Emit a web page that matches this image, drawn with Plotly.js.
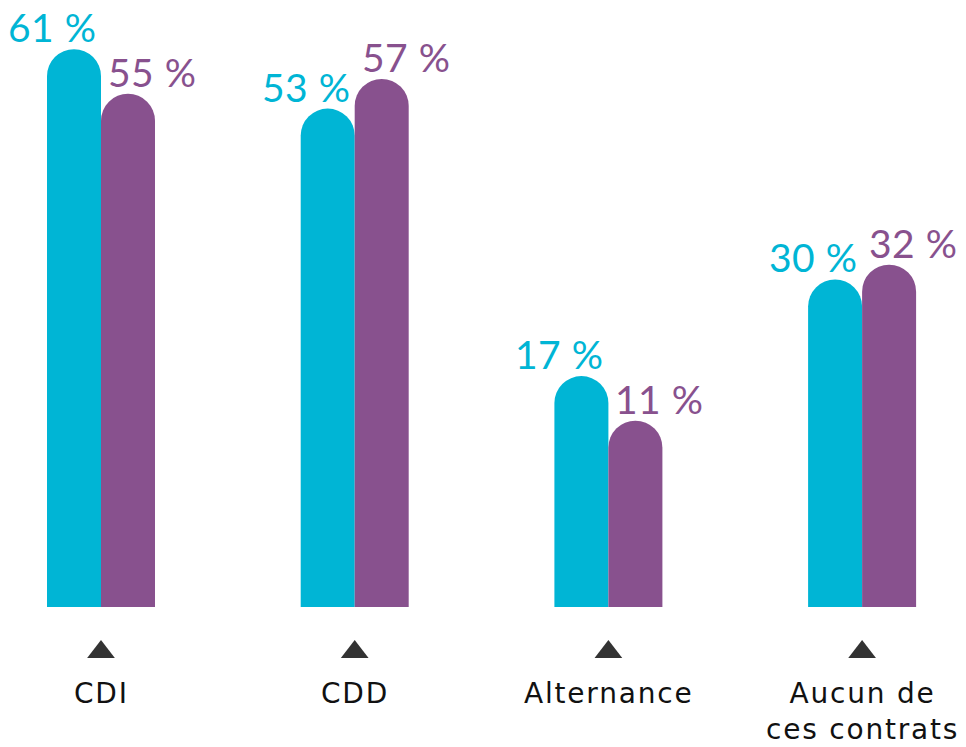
<!DOCTYPE html>
<html>
<head>
<meta charset="utf-8">
<script src="https://cdn.plot.ly/plotly-3.0.1.min.js"></script>
<style>
html,body{margin:0;padding:0;background:#fff;}
#chart{width:966px;height:747px;}
.annotation-text[style*="DejaVu"]{letter-spacing:1.8px;}
.annotation-text[style*="Lato"]{letter-spacing:0.5px;}
</style>
</head>
<body>
<div id="chart"></div>
<script>
// ---- data ----
const categories = ["CDI", "CDD", "Alternance", "Aucun de<br>ces contrats"];
const seriesA = [61, 53, 17, 30];   // cyan
const seriesB = [55, 57, 11, 32];   // purple
const labelsA = ["61 %", "53 %", "17 %", "30 %"];
const labelsB = ["55 %", "57 %", "11 %", "32 %"];

// ---- styling ----
const CYAN = "#00b5d5";
const PURPLE = "#88518e";
const STUB = 14.08;          // fixed visual stub added under every bar
const PX_PER_UNIT = 7.43;
const BASE_PX = 607;         // pixel row of the bars' base
const BOTTOM_PX = 687;       // bottom of plot area
const TRI_Y = -6.06;

const idx = categories.map((_, i) => i);

const traces = [
  {
    type: "bar", x: idx, y: seriesA.map(v => v + STUB),
    marker: {color: CYAN, cornerradius: 27, line: {width: 0}},
    hoverinfo: "skip", showlegend: false
  },
  {
    type: "bar", x: idx, y: seriesB.map(v => v + STUB),
    marker: {color: PURPLE, cornerradius: 27, line: {width: 0}},
    hoverinfo: "skip", showlegend: false
  },
  {
    type: "scatter", mode: "markers", x: idx, y: idx.map(() => TRI_Y),
    marker: {symbol: "triangle-up", size: 24, color: "#333333", line: {width: 0}},
    hoverinfo: "skip", showlegend: false
  }
];

const annotations = [];
idx.forEach(i => {
  annotations.push({
    x: i, y: seriesA[i] + STUB, xref: "x", yref: "y",
    text: labelsA[i], showarrow: false,
    xanchor: "right", yanchor: "bottom", xshift: -3, yshift: -3,
    font: {family: "Lato, 'Open Sans', sans-serif", size: 39, color: CYAN}
  });
  annotations.push({
    x: i, y: seriesB[i] + STUB, xref: "x", yref: "y",
    text: labelsB[i], showarrow: false,
    xanchor: "left", yanchor: "bottom", xshift: 5, yshift: -3,
    font: {family: "Lato, 'Open Sans', sans-serif", size: 39, color: PURPLE}
  });
  annotations.push({
    x: i, y: 0, xref: "x", yref: "y",
    text: categories[i], showarrow: false,
    xanchor: "center", yanchor: "top", yshift: -68,
    font: {family: "'DejaVu Sans', sans-serif", size: 28, color: "#111111"}
  });
});

const spacing = 253.7;
const layout = {
  width: 966, height: 747,
  margin: {l: 0, r: 0, t: 0, b: 747 - BOTTOM_PX, pad: 0},
  paper_bgcolor: "#ffffff", plot_bgcolor: "#ffffff",
  barmode: "group", bargap: 1 - 108 / spacing, bargroupgap: 0,
  xaxis: {
    range: [-101 / spacing, (966 - 101) / spacing],
    showgrid: false, zeroline: false, showticklabels: false, showline: false, ticks: ""
  },
  yaxis: {
    range: [-(BOTTOM_PX - BASE_PX) / PX_PER_UNIT, BASE_PX / PX_PER_UNIT],
    showgrid: false, zeroline: false, showticklabels: false, showline: false, ticks: ""
  },
  annotations: annotations,
  showlegend: false
};

Plotly.newPlot("chart", traces, layout, {displayModeBar: false, staticPlot: true});
</script>
</body>
</html>
